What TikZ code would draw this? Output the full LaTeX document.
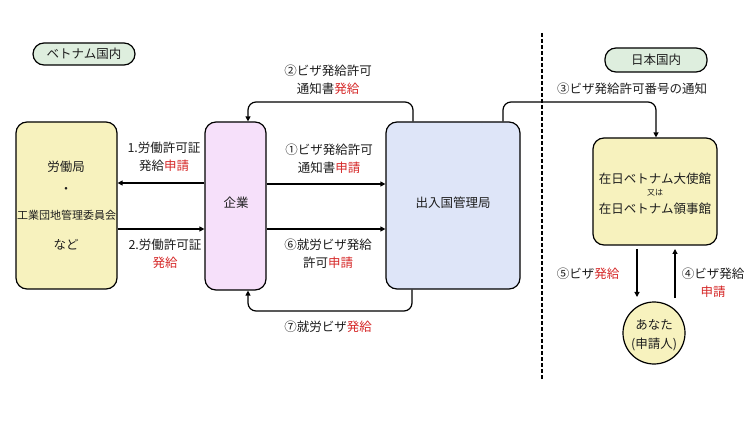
\documentclass[tikz,border=0pt]{standalone}
\usepackage{fontspec}
\setmainfont{Noto Sans CJK JP}
\usetikzlibrary{arrows.meta}
\definecolor{yel}{RGB}{247,242,190}
\definecolor{pinkf}{RGB}{246,224,250}
\definecolor{bluef}{RGB}{222,229,248}
\definecolor{pillg}{RGB}{222,238,222}
\definecolor{myred}{RGB}{214,40,40}
\definecolor{txt}{RGB}{30,30,30}
\newcommand\redtxt[1]{\textcolor{myred}{#1}}
\begin{document}
\begin{tikzpicture}[x=1pt,y=-1pt,
  lbl/.style={font=\fontsize{12.5}{18}\selectfont, text=txt, align=center, inner sep=0pt},
  box/.style={draw=black, line width=1.2pt, rounded corners=11pt, inner sep=0pt},
  pill/.style={draw=black, line width=1.2pt, rounded corners=11pt, fill=pillg, minimum width=102pt, inner sep=0pt, font=\fontsize{12.5}{15}\selectfont, text=txt},
  arr/.style={line width=1.2pt, -{Triangle[length=5pt,width=5pt]}},
  conn/.style={line width=1.2pt, rounded corners=8pt, -{Triangle[length=5pt,width=5pt]}}]
\useasboundingbox[fill=white] (0,0) rectangle (750,422);

% boxes
\node[box, fill=yel, minimum width=101pt, minimum height=167pt] (lab) at (66.5,205.5) {};
\node[lbl] (lab1) at (66,167) {労働局};
\node[lbl] (lab2) at (66,190) {・};
\node[lbl, font=\fontsize{11}{13}\selectfont] (lab3) at (66.5,215) {工業団地管理委員会};
\node[lbl] (lab4) at (66,245) {など};

\node[box, fill=pinkf, minimum width=61pt, minimum height=168pt] (corp) at (235.5,206) {};
\node[lbl] (corpt) at (236,203) {企業};

\node[box, fill=bluef, minimum width=134pt, minimum height=167pt] (imm) at (453,205.5) {};
\node[lbl] (immt) at (453,203) {出入国管理局};

\node[box, fill=yel, minimum width=124pt, minimum height=107pt] (emb) at (655,191.5) {};
\node[lbl] (emb1) at (655,179) {在日ベトナム大使館};
\node[lbl, font=\fontsize{8}{10}\selectfont] (emb2) at (655,193) {又は};
\node[lbl] (emb3) at (655,209) {在日ベトナム領事館};

\node[draw=black, line width=1.2pt, circle, fill=yel, minimum size=62pt, inner sep=0pt] (you) at (654,333) {};
\node[lbl] (you1) at (654,325) {あなた};
\node[lbl] (you2) at (654,344) {(申請人)};

% pills
\node[pill, minimum height=22pt] (vn) at (84,54) {ベトナム国内};
\node[pill, minimum height=24pt] (jp) at (656,60) {日本国内};

% dashed border
\coordinate (dtop) at (542,33);
\coordinate (dbot) at (542,380);
\draw[line width=1.1pt, dash pattern=on 4pt off 2pt] (dtop) -- (dbot);

% horizontal arrows
\coordinate (h1) at (0,183);
\coordinate (h2) at (0,229);
\coordinate (h3) at (0,184);
\draw[arr] (corp.west |- h1) -- (lab.east |- h1);
\draw[arr] (lab.east |- h2) -- (corp.west |- h2);
\draw[arr] (corp.east |- h3) -- (imm.west |- h3);
\draw[arr] (corp.east |- h2) -- (imm.west |- h2);

% loop connectors
\coordinate (t2) at (413,102);
\coordinate (c2) at (248,102);
\draw[conn] (imm.north -| t2) -- (t2) -- (c2) -- (corp.north -| c2);
\coordinate (b7) at (412,311);
\coordinate (d7) at (248,311);
\draw[conn] (imm.south -| b7) -- (b7) -- (d7) -- (corp.south -| d7);
\coordinate (t3) at (503,102);
\coordinate (e3) at (656,102);
\draw[conn] (imm.north -| t3) -- (t3) -- (e3) -- (emb.north -| e3);

% vertical arrows
\coordinate (f5) at (637,249);
\coordinate (g5) at (637,297);
\draw[arr] (f5) -- (g5);
\coordinate (f4) at (675,298);
\coordinate (g4) at (675,249);
\draw[arr] (f4) -- (g4);

% labels
\node[lbl] (L1) at (164,157) {1.労働許可証\\発給\redtxt{申請}};
\node[lbl] (L2) at (165,253.5) {2.労働許可証\\\redtxt{発給}};
\node[lbl] (La) at (329,159) {①ビザ発給許可\\通知書\redtxt{申請}};
\node[lbl] (Lf) at (328,254) {⑥就労ビザ発給\\許可\redtxt{申請}};
\node[lbl] (Lb) at (328,80) {②ビザ発給許可\\通知書\redtxt{発給}};
\node[lbl] (Lg) at (328,327) {⑦就労ビザ\redtxt{発給}};
\node[lbl] (Lc) at (632,89) {③ビザ発給許可番号の通知};
\node[lbl] (Le) at (588,274) {⑤ビザ\redtxt{発給}};
\node[lbl] (Ld) at (713,283) {④ビザ発給\\\redtxt{申請}};
\end{tikzpicture}
\end{document}
